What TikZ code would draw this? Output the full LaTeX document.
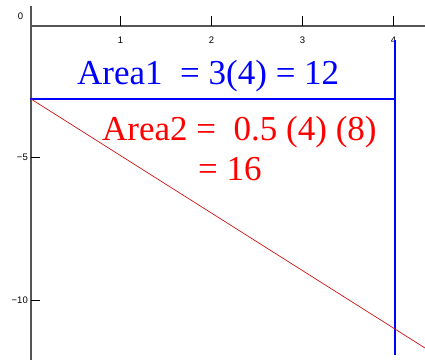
\documentclass[tikz,border=0pt]{standalone}
\usepackage{fontspec}
\setmainfont{Liberation Serif}
\newfontfamily\tickfont{Liberation Sans}
\newfontfamily\areafont{Liberation Serif}
\definecolor{AxisGray}{RGB}{85,85,85}
\definecolor{AreaBlue}{RGB}{0,0,255}
\definecolor{AreaRed}{RGB}{255,0,0}
\definecolor{SlopeRed}{RGB}{205,20,20}

\begin{document}
\begin{tikzpicture}[
        x=1pt, y=-1pt,
        axis/.style={
            draw=AxisGray,
            line width=1.2pt
        },
        axistick/.style={
            draw=black,
            line width=0.8pt
        },
        ticklabel/.style={
            font=\tickfont\fontsize{9.5}{10}\selectfont,
            inner sep=0pt
        },
        bluerule/.style={
            draw=AreaBlue,
            line width=1.2pt
        },
        slopeline/.style={
            draw=SlopeRed,
            line width=0.7pt
        },
        areatext/.style={
            text=AreaBlue,
            anchor=base west,
            inner sep=0pt,
            font=\areafont\fontsize{35}{40}\selectfont
        },
        areatextred/.style={
            areatext,
            text=AreaRed
        }
    ]
        \useasboundingbox (0,0) rectangle (425,360);
        % axes
        \coordinate (ytop) at (31,6);
        \coordinate (ybot) at (31,360);
        \coordinate (xleft) at (31,26);
        \coordinate (xright) at (425,26);
        \draw[axis] (ytop) -- (ybot);
        \draw[axis] (xleft) -- (xright);
        \node[ticklabel] (lab0) at (20.5,16) {0};
        \foreach \i in {1,2,3,4} {
            \draw[axistick] (29.5+91*\i,16) -- (29.5+91*\i,26);
            \node[ticklabel] (labx\i) at (29.5+91*\i,40.5) {\i};
        }
        \foreach \v/\py in {5/157,10/300.5} {
            \draw[axistick] (31,\py) -- (40,\py);
            \node[ticklabel, anchor=east] (laby\v) at (28,\py) {−\v};
        }
        % area boundaries
        \coordinate (hstart) at (30,99);
        \coordinate (corner) at (395,99);
        \coordinate (vtop) at (395,40);
        \coordinate (vbot) at (395,355);
        \draw[bluerule] (hstart) -- (corner);
        \draw[bluerule] (vtop) -- (vbot);
        \coordinate (sstart) at (31,99);
        \coordinate (send) at (425,348);
        \draw[slopeline] (sstart) -- (send);
        % labels
        \node[areatext] (area1) at (77,84) {Area1 \ = 3(4) = 12};
        \node[areatextred] (area2) at (102,140) {Area2 = \ 0.5 (4) (8)};
        \node[areatextred] (area2b) at (198,180) {= 16};
    \end{tikzpicture}
\end{document}
